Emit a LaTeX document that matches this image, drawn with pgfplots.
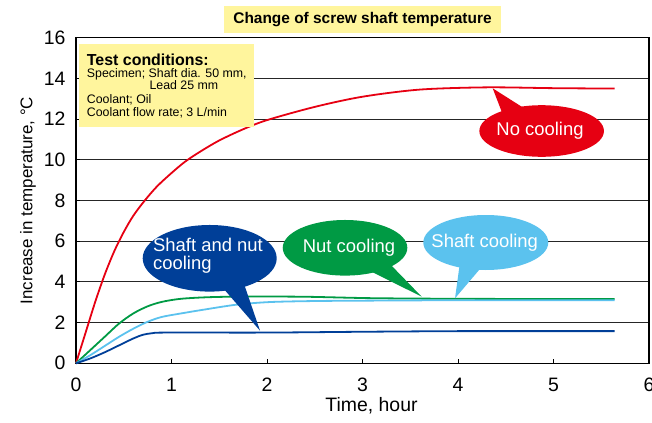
\documentclass[border=0pt]{standalone}
\usepackage{pgfplots}
\pgfplotsset{compat=1.18}
\usepackage{fontspec}
\setmainfont{Liberation Sans}
\definecolor{cred}{HTML}{E60012}
\definecolor{cgreen}{HTML}{009A44}
\definecolor{cdblue}{HTML}{003F98}
\definecolor{clblue}{HTML}{5BC2EE}
\definecolor{cyell}{HTML}{FFF59D}
\begin{document}
\begin{tikzpicture}
\useasboundingbox (0,0) rectangle (652bp,423bp);
\begin{axis}[
  at={(76bp,59.7bp)}, anchor=south west,
  scale only axis, width=573bp, height=325.6bp,
  xmin=0, xmax=6, ymin=0, ymax=16,
  xtick={0,1,...,6}, ytick={0,2,...,16},
  xtick pos=bottom, ytick pos=left,
  tick align=inside, major tick length=4bp,
  ymajorgrids, grid style={black!85, line width=0.8bp},
  axis line style={line width=1.2bp},
  tick style={line width=1bp, black},
  ticklabel style={font=\fontsize{19.5}{20}\selectfont},
  xticklabel style={yshift=-11bp},
  yticklabel style={xshift=-7bp},
  /pgf/number format/assume math mode=true,
  xlabel={Time, hour},
  ylabel={Increase in temperature, °C},
  xlabel style={font=\fontsize{19.5}{20}\selectfont, at={(axis description cs:0.5157,-0.131)}, anchor=center},
  ylabel style={font=\fontsize{17}{18}\selectfont, at={(axis description cs:-0.0838,0.5)}, anchor=center, rotate=0},
  clip=false,
]
\addplot[cred, line width=1.8bp, smooth] coordinates {
(0,0) (0.1,1.5) (0.2,3.0) (0.3,4.35) (0.4,5.5) (0.5,6.45) (0.6,7.25) (0.72,8.0) (0.85,8.7) (1.0,9.35) (1.14,9.9) (1.3,10.4) (1.5,10.95) (1.75,11.5) (2.0,11.95) (2.5,12.6) (3.0,13.1) (3.6,13.45) (4.3,13.56) (5,13.52) (5.64,13.5)};
\addplot[cgreen, line width=1.8bp, smooth] coordinates {
(0,0) (0.15,0.65) (0.3,1.3) (0.45,1.95) (0.6,2.45) (0.75,2.8) (0.9,3.02) (1.1,3.17) (1.4,3.25) (1.8,3.28) (2.4,3.27) (3.1,3.2) (4,3.17) (5,3.16) (5.64,3.16)};
\addplot[clblue, line width=1.8bp, smooth] coordinates {
(0,0) (0.15,0.4) (0.3,0.85) (0.45,1.3) (0.6,1.7) (0.75,2.04) (0.9,2.28) (1.1,2.45) (1.33,2.63) (1.68,2.88) (2.03,3.01) (2.5,3.06) (3.08,3.08) (4,3.1) (5,3.1) (5.64,3.1)};
\addplot[cdblue, line width=1.8bp, smooth] coordinates {
(0,0) (0.15,0.24) (0.3,0.54) (0.45,0.88) (0.6,1.22) (0.7,1.4) (0.8,1.48) (0.95,1.51) (2,1.51) (3,1.55) (4,1.58) (5,1.58) (5.64,1.58)};

% title
\node[fill=cyell, minimum width=277bp, minimum height=27bp, inner sep=0pt,
  font=\bfseries\fontsize{15.5}{16}\selectfont] at (axis cs:3,16.894) {Change of screw shaft temperature};

% test conditions box
\fill[cyell] (axis cs:0.034,15.676) rectangle (axis cs:1.867,11.627);
\node[anchor=base west, inner sep=0pt, font=\bfseries\fontsize{16}{16}\selectfont] at (axis cs:0.112,14.658) {Test conditions:};
\node[anchor=base west, inner sep=0pt, font=\fontsize{12.4}{13}\selectfont] at (axis cs:0.112,14.034) {Specimen; Shaft dia. 50 mm,};
\node[anchor=base west, inner sep=0pt, font=\fontsize{12.4}{13}\selectfont] at (axis cs:0.768,13.430) {Lead 25 mm};
\node[anchor=base west, inner sep=0pt, font=\fontsize{12.4}{13}\selectfont] at (axis cs:0.112,12.776) {Coolant; Oil};
\node[anchor=base west, inner sep=0pt, font=\fontsize{12.4}{13}\selectfont] at (axis cs:0.112,12.152) {Coolant flow rate; 3 L/min};

% callout: no cooling
\fill[cred] (axis cs:4.471,12.201) -- (axis cs:4.363,13.514) -- (axis cs:4.754,12.35) -- cycle;
\fill[cred] (axis cs:4.876,11.415) ellipse [x radius=62.3bp, y radius=25.8bp];
\node[text=white, font=\fontsize{18.5}{18.5}\selectfont] at (axis cs:4.859,11.415) {No cooling};

% callout: nut cooling
\fill[cgreen] (axis cs:3.016,4.683) -- (axis cs:3.620,3.273) -- (axis cs:3.267,4.978) -- cycle;
\fill[cgreen] (axis cs:2.817,5.676) ellipse [x radius=62.3bp, y radius=27.8bp];
\node[text=white, font=\fontsize{18.5}{18.5}\selectfont] at (axis cs:2.859,5.666) {Nut cooling};

% callout: shaft cooling
\fill[clblue] (axis cs:4.021,4.978) -- (axis cs:3.969,3.194) -- (axis cs:4.265,4.830) -- cycle;
\fill[clblue] (axis cs:4.291,5.936) ellipse [x radius=62.5bp, y radius=27.5bp];
\node[text=white, font=\fontsize{18.5}{18.5}\selectfont] at (axis cs:4.280,5.936) {Shaft cooling};

% callout: shaft and nut cooling
\fill[cdblue] (axis cs:1.466,4.093) -- (axis cs:1.927,1.602) -- (axis cs:1.738,4.192) -- cycle;
\fill[cdblue] (axis cs:1.400,5.160) ellipse [x radius=67bp, y radius=33.3bp];
\node[text=white, align=left, font=\fontsize{18.5}{18.3}\selectfont] at (axis cs:1.382,5.273) {Shaft and nut\\cooling};
\end{axis}
\end{tikzpicture}
\end{document}
